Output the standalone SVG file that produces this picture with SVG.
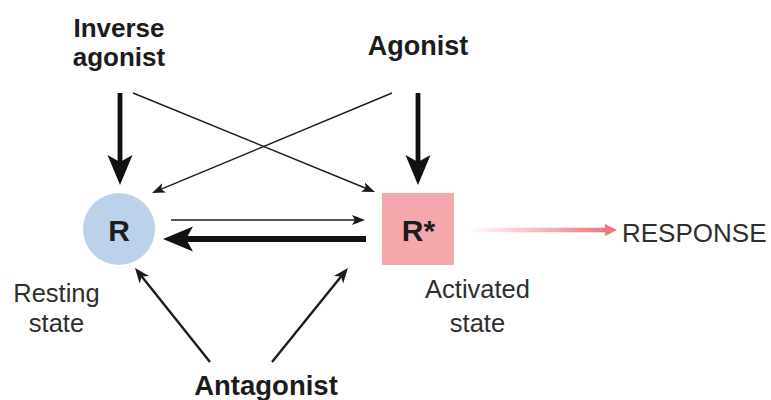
<svg xmlns="http://www.w3.org/2000/svg" width="771" height="400" viewBox="0 0 771 400">
  <style>
    .bold { font-family: "Liberation Sans", Arial, sans-serif; font-weight: bold; fill: #1c1c1c; }
    .reg { font-family: "Liberation Sans", Arial, sans-serif; fill: #2e2e2e; }
    .thin { stroke: #1c1c1c; stroke-width: 1.4; fill: none; marker-end: url(#arrow-thin); }
    .mid { stroke: #1c1c1c; stroke-width: 2.4; fill: none; marker-end: url(#arrow-mid); }
    .heavy { stroke: #111; stroke-width: 4.8; fill: none; marker-end: url(#arrow-bold); }
    .heavier { stroke: #111; stroke-width: 6; fill: none; marker-end: url(#arrow-bold); }
  </style>
  <defs>
    <marker id="arrow-thin" markerUnits="userSpaceOnUse" viewBox="0 -6 14 12" markerWidth="14" markerHeight="12" refX="5" refY="0" orient="auto">
      <path d="M0,-5 L13,0 L0,5 L3,0 z" fill="#1c1c1c"/>
    </marker>
    <marker id="arrow-mid" markerUnits="userSpaceOnUse" viewBox="0 -7 16 14" markerWidth="16" markerHeight="14" refX="6" refY="0" orient="auto">
      <path d="M0,-6 L15,0 L0,6 L4,0 z" fill="#1c1c1c"/>
    </marker>
    <marker id="arrow-bold" markerUnits="userSpaceOnUse" viewBox="0 -13 31 26" markerWidth="31" markerHeight="26" refX="10" refY="0" orient="auto">
      <path d="M0,-12.5 L30,0 L0,12.5 L7,0 z" fill="#111"/>
    </marker>
    <marker id="arrow-response" markerUnits="userSpaceOnUse" viewBox="0 -7 13 14" markerWidth="13" markerHeight="14" refX="2" refY="0" orient="auto">
      <path d="M0,-6 L12,0 L0,6 z" fill="#ee7680"/>
    </marker>
    <linearGradient id="response-fade" gradientUnits="userSpaceOnUse" x1="467" y1="0" x2="607" y2="0">
      <stop offset="0" stop-color="#ee7680" stop-opacity="0"/>
      <stop offset="1" stop-color="#ee7680" stop-opacity="1"/>
    </linearGradient>
  </defs>

  <rect width="771" height="400" fill="#ffffff"/>

  <!-- connectors -->
  <g id="connectors">
    <!-- ligand binding -->
    <line class="heavy" x1="120" y1="93" x2="120" y2="165"/>
    <line class="heavy" x1="418" y1="93" x2="418" y2="165"/>
    <line class="thin" x1="133" y1="93" x2="367.6" y2="189"/>
    <line class="thin" x1="392" y1="93" x2="159.4" y2="189.9"/>
    <!-- equilibrium R <-> R* -->
    <line class="thin" x1="171" y1="220" x2="357" y2="220"/>
    <line class="heavier" x1="366" y1="239" x2="183" y2="239"/>
    <!-- antagonist -->
    <line class="mid" x1="210" y1="362" x2="140.6" y2="275"/>
    <line class="mid" x1="272" y1="362" x2="342.3" y2="275"/>
    <!-- response -->
    <line x1="467" y1="230" x2="607" y2="230" stroke="url(#response-fade)" stroke-width="4.5" marker-end="url(#arrow-response)"/>
  </g>

  <g id="inverse-agonist">
    <text class="bold" font-size="26" x="119" y="37" text-anchor="middle">Inverse</text>
    <text class="bold" font-size="26" x="119" y="66" text-anchor="middle">agonist</text>
  </g>

  <g id="agonist">
    <text class="bold" font-size="27" x="418" y="55" text-anchor="middle">Agonist</text>
  </g>

  <g id="resting-receptor">
    <circle cx="119" cy="229" r="36" fill="#bcd2ea"/>
    <text class="bold" font-size="30" x="119" y="241" text-anchor="middle">R</text>
  </g>

  <g id="activated-receptor">
    <rect x="382" y="193" width="72" height="72" fill="#f5a8ac"/>
    <text class="bold" font-size="30" x="418.5" y="241" text-anchor="middle">R*</text>
  </g>

  <g id="resting-label">
    <text class="reg" font-size="25.5" x="56.5" y="302" text-anchor="middle">Resting</text>
    <text class="reg" font-size="25.5" x="56.5" y="332" text-anchor="middle">state</text>
  </g>

  <g id="activated-label">
    <text class="reg" font-size="25.5" x="477.5" y="298" text-anchor="middle">Activated</text>
    <text class="reg" font-size="25.5" x="477.5" y="332" text-anchor="middle">state</text>
  </g>

  <g id="response">
    <text class="reg" font-size="26" x="622" y="242">RESPONSE</text>
  </g>

  <g id="antagonist">
    <text class="bold" font-size="27.5" x="266" y="395" text-anchor="middle">Antagonist</text>
  </g>
</svg>
